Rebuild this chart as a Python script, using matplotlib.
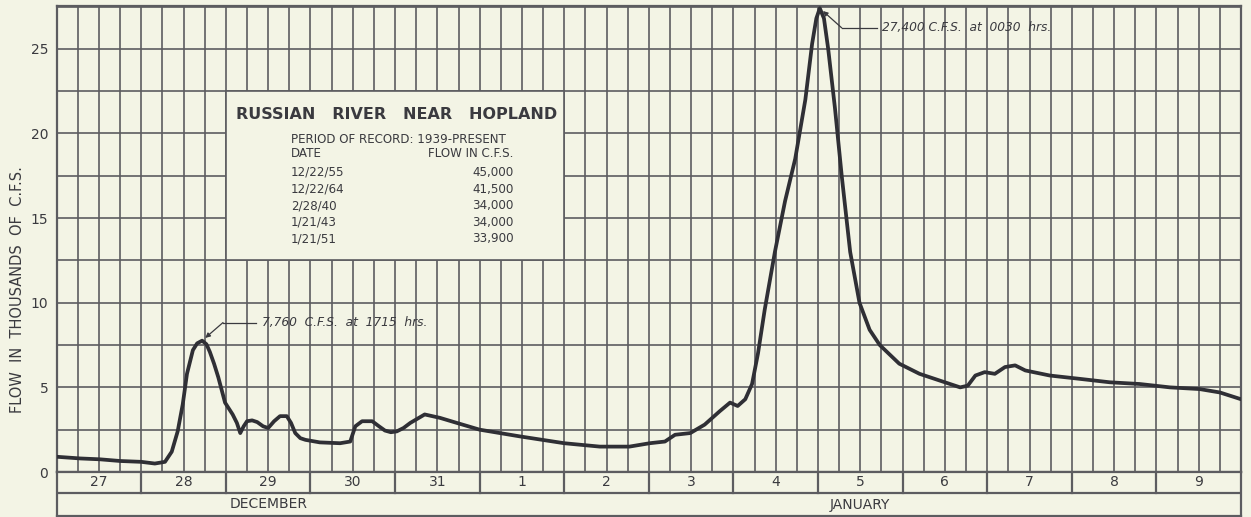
import matplotlib
matplotlib.use("Agg")
import matplotlib.pyplot as plt
from matplotlib.patches import Rectangle

# Hydrograph: time in days after 27 Dec 00:00, flow in thousands of c.f.s.
t_days = [0.00, 0.28, 0.51, 0.75, 1.00, 1.16, 1.28, 1.36, 1.43, 1.49, 1.54, 1.61,
          1.66, 1.719, 1.77, 1.81, 1.86, 1.91, 1.99, 2.08, 2.13, 2.17, 2.21, 2.25,
          2.31, 2.37, 2.44, 2.50, 2.57, 2.64, 2.72, 2.77, 2.82, 2.88,
          2.94, 3.11, 3.35, 3.47, 3.53, 3.61, 3.73, 3.81, 3.88, 3.95, 4.02, 4.10,
          4.18, 4.35, 4.53, 4.73, 5.00, 5.48, 6.00, 6.42, 6.77, 7.01, 7.19, 7.31,
          7.49, 7.66, 7.84, 7.96, 8.05, 8.14, 8.22, 8.29, 8.37, 8.49, 8.61, 8.73,
          8.85, 8.93, 8.98, 9.021, 9.07, 9.12, 9.20, 9.28, 9.38, 9.49, 9.61, 9.73,
          9.96, 10.20, 10.44, 10.68, 10.77, 10.86, 10.97, 11.09, 11.21, 11.33,
          11.45, 11.74, 12.10, 12.45, 12.80, 13.16, 13.51, 13.75, 14.00]
flow_kcfs = [0.90, 0.80, 0.75, 0.65, 0.60, 0.50, 0.60, 1.20, 2.40, 4.00, 5.80, 7.20,
             7.60, 7.76, 7.55, 7.10, 6.40, 5.60, 4.10, 3.40, 2.90, 2.30, 2.70, 3.00,
             3.05, 2.95, 2.70, 2.60, 3.00, 3.30, 3.30, 2.90, 2.30, 2.00,
             1.90, 1.75, 1.70, 1.80, 2.70, 3.00, 3.00, 2.70, 2.45, 2.35, 2.40, 2.60,
             2.90, 3.40, 3.20, 2.90, 2.50, 2.10, 1.70, 1.50, 1.50, 1.70, 1.80, 2.20,
             2.30, 2.80, 3.60, 4.10, 3.90, 4.30, 5.20, 7.00, 9.60, 13.00, 16.00, 18.50,
             22.00, 25.30, 26.80, 27.40, 26.80, 25.00, 21.50, 17.50, 13.00, 10.00, 8.40,
             7.50, 6.40, 5.80, 5.40, 5.00, 5.10, 5.70, 5.90, 5.80, 6.20, 6.30,
             6.00, 5.70, 5.50, 5.30, 5.20, 5.00, 4.90, 4.70, 4.30]

day_labels = ["27", "28", "29", "30", "31", "1", "2", "3", "4", "5", "6", "7", "8", "9"]
month_labels = ["DECEMBER", "JANUARY"]
month_spans = [(0, 5), (5, 14)]
y_ticks = [0, 5, 10, 15, 20, 25]

peak1 = (1 + 17.25 / 24, 7.76)    # 28 Dec, 1715 hrs
peak2 = (9 + 0.5 / 24, 27.40)     # 5 Jan, 0030 hrs

record_title = "RUSSIAN   RIVER   NEAR   HOPLAND"
record_period = "PERIOD OF RECORD: 1939-PRESENT"
record_dates = ["12/22/55", "12/22/64", "2/28/40", "1/21/43", "1/21/51"]
record_flows = ["45,000", "41,500", "34,000", "34,000", "33,900"]

BG = "#f3f4e5"
GRID = "#5c5c60"
INK = "#3a3a3f"
CURVE = "#2f2f35"

W, H = 1251, 517
fig = plt.figure(figsize=(W / 100, H / 100), dpi=100, facecolor=BG)

def px_box(x0, y0, x1, y1):
    return [x0 / W, 1 - y1 / H, (x1 - x0) / W, (y1 - y0) / H]

left, right, top, zero, row_split, bottom = 56.7, 1241, 5.7, 472, 493, 516

ax = fig.add_axes(px_box(left, top, right, zero))
ax.set_facecolor(BG)
ax.set_xlim(0, 14)
ax.set_ylim(0, 27.55)

# graph-paper grid: 6-hour columns, 2,500 c.f.s. rows
for k in range(1, 14 * 4):
    ax.axvline(k / 4, color=GRID, lw=1.2, zorder=1)
for k in range(1, 12):
    ax.axhline(k * 2.5, color=GRID, lw=1.2, zorder=1)
for s in ax.spines.values():
    s.set_color(GRID)
    s.set_linewidth(1.6)

ax.set_xticks([])
ax.set_yticks(y_ticks)
ax.set_yticklabels([str(v) for v in y_ticks], fontsize=10, color=INK)
ax.tick_params(axis="y", length=0, pad=6)

# record table panel
ax.add_patch(Rectangle((2, 12.5), 4, 10, facecolor=BG, edgecolor=GRID, lw=1.2, zorder=2))
ax.text(4.02, 21.1, record_title, ha="center", va="center", fontsize=11.5,
        fontweight="bold", color=INK, zorder=3)
tfs = 8.6
ax.text(2.77, 19.65, record_period, ha="left", va="center", fontsize=tfs, color=INK, zorder=3)
ax.text(2.77, 18.8, "DATE", ha="left", va="center", fontsize=tfs, color=INK, zorder=3)
ax.text(5.40, 18.8, "FLOW IN C.F.S.", ha="right", va="center", fontsize=tfs, color=INK, zorder=3)
for i, (d, f) in enumerate(zip(record_dates, record_flows)):
    y = 17.7 - i * 0.98
    ax.text(2.77, y, d, ha="left", va="center", fontsize=tfs, color=INK, zorder=3)
    ax.text(5.40, y, f, ha="right", va="center", fontsize=tfs, color=INK, zorder=3)

# hydrograph
ax.plot(t_days, flow_kcfs, color=CURVE, lw=2.7, solid_joinstyle="round",
        solid_capstyle="round", zorder=4)

# peak annotations
ax.plot([2.36, 1.966], [8.83, 8.83], color=INK, lw=0.9, zorder=4)
ax.annotate("", xy=peak1, xytext=(1.966, 8.83),
            arrowprops=dict(arrowstyle="-|>", color=INK, lw=0.9, shrinkA=0, shrinkB=3,
                            mutation_scale=7), zorder=4)
ax.text(2.43, 8.83, "7,760  C.F.S.  at  1715  hrs.", ha="left", va="center",
        fontsize=8.8, style="italic", color=INK, zorder=4)

ax.plot([9.70, 9.28], [26.24, 26.24], color=INK, lw=0.9, zorder=4)
ax.annotate("", xy=peak2, xytext=(9.28, 26.24),
            arrowprops=dict(arrowstyle="-|>", color=INK, lw=0.9, shrinkA=0, shrinkB=3,
                            mutation_scale=7), zorder=4)
ax.text(9.76, 26.24, "27,400 C.F.S.  at  0030  hrs.", ha="left", va="center",
        fontsize=8.8, style="italic", color=INK, zorder=4)

fig.text(18 / W, 1 - 290 / H, "FLOW  IN  THOUSANDS  OF  C.F.S.", rotation=90,
         ha="center", va="center", fontsize=10.5, color=INK)

# date and month rows
bx = fig.add_axes(px_box(left, zero, right, bottom))
bx.set_facecolor(BG)
bx.set_xlim(0, 14)
bx.set_ylim(0, 1)
bx.set_xticks([])
bx.set_yticks([])
for s in bx.spines.values():
    s.set_color(GRID)
    s.set_linewidth(1.6)
split = (bottom - row_split) / (bottom - zero)
bx.axhline(split, color=GRID, lw=1.6)
for k in range(1, 14):
    bx.plot([k, k], [split, 1], color=GRID, lw=1.6)
for k, lab in enumerate(day_labels):
    bx.text(k + 0.5, (split + 1) / 2, lab, ha="center", va="center", fontsize=10, color=INK)
for lab, (a, b) in zip(month_labels, month_spans):
    bx.text((a + b) / 2, split / 2, lab, ha="center", va="center", fontsize=10, color=INK)

fig.savefig("out.png", dpi=100, facecolor=BG)
